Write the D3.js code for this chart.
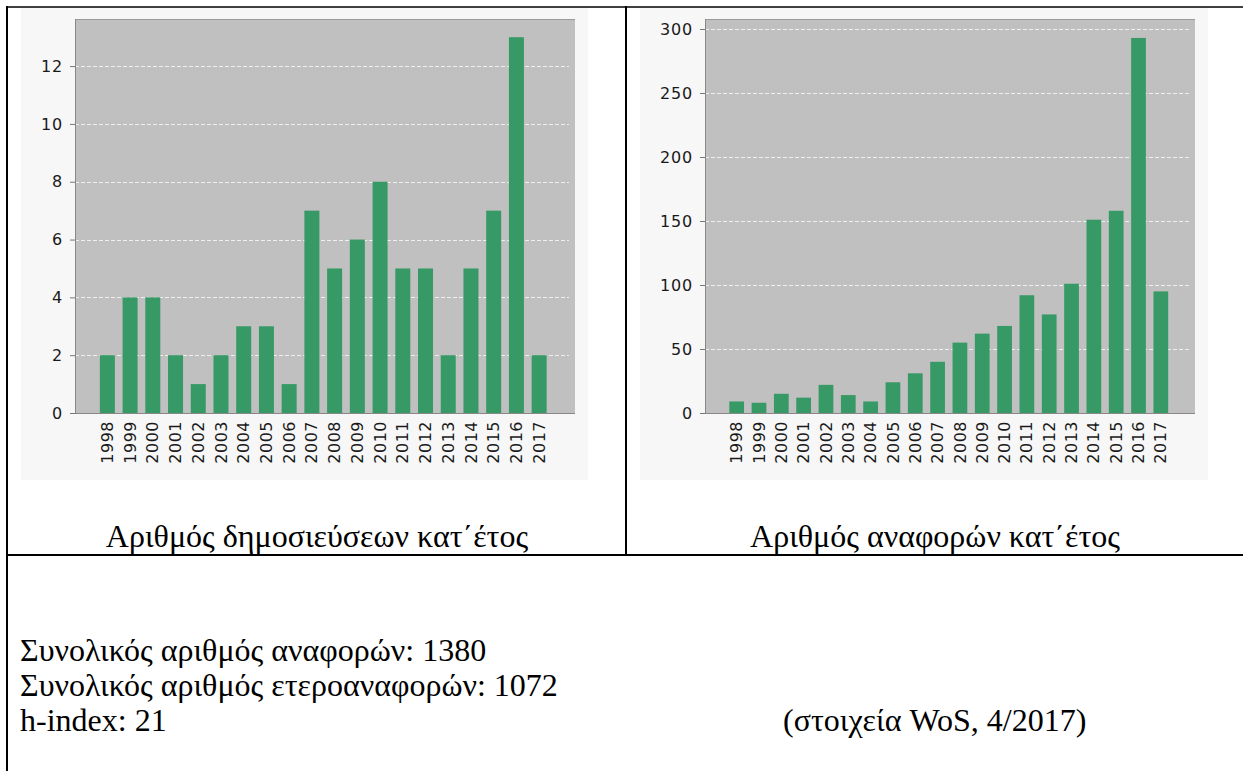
<!DOCTYPE html>
<html>
<head>
<meta charset="utf-8">
<script src="https://cdn.jsdelivr.net/npm/d3@7"></script>
<style>
html,body{margin:0;padding:0;background:#fff;}
svg{display:block;}
</style>
</head>
<body>
<svg id="c" width="1243" height="771"></svg>
<script>
const years = ["1998","1999","2000","2001","2002","2003","2004","2005","2006","2007","2008","2009","2010","2011","2012","2013","2014","2015","2016","2017"];
const publications = [2,4,4,2,1,2,3,3,1,7,5,6,8,5,5,2,5,7,13,2];
const citations = [9,8,15,12,22,14,9,24,31,40,55,62,68,92,77,101,151,158,293,95];
const pubTicks = [0,2,4,6,8,10,12];
const citTicks = [0,50,100,150,200,250,300];
const captions = ["Αριθμός δημοσιεύσεων κατ΄έτος", "Αριθμός αναφορών κατ΄έτος"];
const summaryLines = ["Συνολικός αριθμός αναφορών: 1380", "Συνολικός αριθμός ετεροαναφορών: 1072", "h-index: 21"];
const sourceNote = "(στοιχεία WoS, 4/2017)";

const svg = d3.select("#c");
const serif = "Liberation Serif, Times New Roman, serif";
const textSize = 32;

function chart(cfg){
  const g = svg.append("g");
  g.append("rect").attr("x",cfg.bg[0]).attr("y",8).attr("width",cfg.bg[1]-cfg.bg[0]).attr("height",472).attr("fill","#f7f7f7");
  const y = d3.scaleLinear().domain([0,cfg.ymax]).range([413,19]);
  const x = d3.scaleBand().domain(years).range(cfg.xr).paddingInner(0.34).paddingOuter(0.17);
  g.append("rect").attr("x",cfg.plot[0]).attr("y",19).attr("width",cfg.plot[1]-cfg.plot[0]).attr("height",394).attr("fill","#c0c0c0");
  g.append("line").attr("x1",cfg.plot[0]).attr("x2",cfg.plot[1]).attr("y1",19.5).attr("y2",19.5).attr("stroke","#9a9a9a");
  g.append("g").selectAll("line").data(cfg.ticks.filter(t=>t>0)).join("line")
    .attr("x1",cfg.plot[0]).attr("x2",cfg.plot[1]-6)
    .attr("y1",d=>Math.round(y(d))+0.5).attr("y2",d=>Math.round(y(d))+0.5)
    .attr("stroke","#efefef").attr("stroke-width",1).attr("stroke-dasharray","4,2");
  g.append("g").selectAll("rect").data(cfg.values).join("rect")
    .attr("x",(d,i)=>x(years[i])).attr("width",x.bandwidth())
    .attr("y",d=>y(d)).attr("height",d=>y(0)-y(d))
    .attr("fill","#379965");
  const ya = d3.axisLeft(y).tickValues(cfg.ticks).tickSize(5).tickPadding(7).tickFormat(d3.format("d"));
  const yg = g.append("g").attr("transform",`translate(${cfg.plot[0]},0)`).call(ya);
  yg.select(".domain").attr("stroke","#888").attr("d",`M0.5,19V413.5`);
  yg.selectAll(".tick line").attr("stroke","#777");
  yg.selectAll("text").attr("font-family","DejaVu Sans").attr("font-size",16).attr("fill","#1a1a1a").attr("letter-spacing","0.8px");
  const xa = d3.axisBottom(x).tickSize(0).tickPadding(0);
  const xg = g.append("g").attr("transform","translate(0,413)").call(xa);
  xg.select(".domain").attr("stroke","#888").attr("d",`M${cfg.plot[0]},0.5H${cfg.plot[1]}`);
  xg.selectAll("text").attr("font-family","DejaVu Sans").attr("font-size",16).attr("fill","#1a1a1a")
    .attr("letter-spacing","0.5px")
    .attr("transform","rotate(-90)").attr("text-anchor","end").attr("dy","0.35em").attr("x",-8).attr("y",0);
  svg.append("text").attr("x",cfg.capX).attr("y",547).attr("text-anchor","middle")
    .attr("font-family",serif).attr("font-size",textSize).attr("fill","#000")
    .text(cfg.caption);
}

chart({values:publications, ticks:pubTicks, ymax:13.63, bg:[21,588], plot:[75,575], xr:[96,550.5], capX:317, caption:captions[0]});
chart({values:citations, ticks:citTicks, ymax:307.8, bg:[640,1208], plot:[705,1195], xr:[725.5,1172], capX:935, caption:captions[1]});

const bc = "#000";
svg.append("line").attr("x1",6).attr("x2",1243).attr("y1",7).attr("y2",7).attr("stroke",bc).attr("stroke-width",1.5);
svg.append("line").attr("x1",7).attr("x2",7).attr("y1",6).attr("y2",771).attr("stroke",bc).attr("stroke-width",2);
svg.append("line").attr("x1",626).attr("x2",626).attr("y1",6).attr("y2",556).attr("stroke",bc).attr("stroke-width",2);
svg.append("line").attr("x1",6).attr("x2",1243).attr("y1",555).attr("y2",555).attr("stroke",bc).attr("stroke-width",2);

svg.append("g").selectAll("text").data(summaryLines).join("text")
  .attr("x",20).attr("y",(d,i)=>661+i*35).attr("font-family",serif).attr("font-size",textSize).attr("fill","#000").text(d=>d);
svg.append("text").attr("x",783).attr("y",731).attr("font-family",serif).attr("font-size",textSize).attr("fill","#000").text(sourceNote);
</script>
</body>
</html>
